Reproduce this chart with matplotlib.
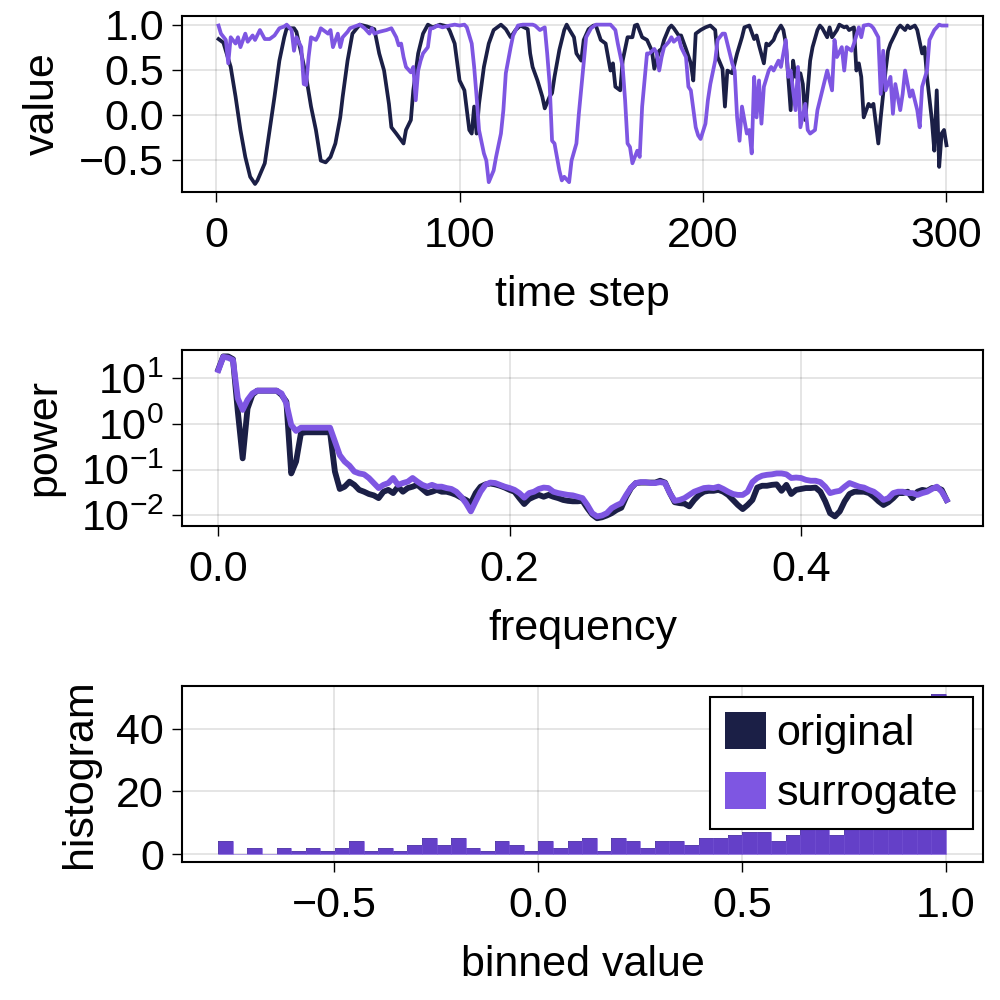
import numpy as np
import matplotlib
matplotlib.use("Agg")
import matplotlib.pyplot as plt
from matplotlib.patches import Patch

plt.rcParams['font.family'] = ['Liberation Sans', 'DejaVu Sans']
plt.rcParams['mathtext.fontset'] = 'custom'
plt.rcParams['mathtext.rm'] = 'Liberation Sans'
plt.rcParams['mathtext.it'] = 'Liberation Sans:italic'

DARK = '#1b1f46'
PURPLE = '#7e56e2'

# time series (time step, value)
orig_t = [1, 3, 6, 8, 10, 12, 14, 16, 17, 20, 22, 24, 26, 28, 29, 32, 33, 35, 37, 39,
          41, 43, 45, 47, 49, 51, 52, 54, 56, 59, 62, 65, 67, 69, 71, 72, 74, 77, 78, 80,
          81, 83, 85, 87, 89, 92, 95, 96, 98, 100, 102, 103, 104, 105, 106, 107, 108, 110, 112, 114,
          117, 119, 121, 123, 125, 128, 129, 130, 132, 134, 135, 137, 138, 139, 141, 143, 144, 145, 147, 148,
          150, 151, 153, 155, 156, 158, 160, 162, 163, 164, 166, 167, 169, 171, 172, 173, 175, 177, 179, 180,
          182, 183, 184, 186, 187, 188, 190, 191, 193, 195, 196, 197, 199, 201, 203, 205, 206, 208, 209, 210,
          212, 213, 214, 216, 217, 219, 221, 222, 223, 225, 226, 227, 229, 230, 232, 233, 234, 236, 237, 238,
          240, 241, 242, 244, 245, 247, 248, 249, 251, 252, 253, 255, 256, 258, 259, 260, 262, 263, 264, 265,
          266, 268, 269, 270, 272, 273, 275, 276, 277, 279, 280, 281, 283, 284, 285, 287, 288, 290, 291, 292,
          294, 295, 296, 297, 298, 299, 300]
orig_v = [0.84, 0.80, 0.53, 0.20, -0.17, -0.47, -0.69, -0.77, -0.73, -0.54, -0.17, 0.20, 0.60, 0.86, 0.96, 0.96, 0.92, 0.68, 0.42, 0.09,
          -0.17, -0.51, -0.53, -0.47, -0.32, -0.03, 0.20, 0.60, 0.90, 1.00, 0.98, 0.95, 0.68, 0.49, 0.12, -0.14, -0.21, -0.32, -0.17, -0.06,
          0.27, 0.68, 0.90, 1.00, 0.97, 1.00, 0.98, 0.93, 0.79, 0.38, 0.27, 0.05, -0.17, -0.21, 0.09, -0.21, 0.12, 0.53, 0.79, 0.94,
          1.00, 0.95, 0.86, 0.94, 0.99, 0.95, 0.68, 0.53, 0.38, 0.20, 0.07, 0.20, 0.24, 0.42, 0.72, 0.94, 1.00, 0.95, 0.86, 0.68,
          0.60, 0.83, 0.95, 0.99, 0.99, 0.83, 0.79, 0.49, 0.57, 0.31, 0.27, 0.60, 0.86, 0.86, 0.99, 1.00, 0.86, 0.83, 0.71, 0.51,
          0.71, 0.73, 0.83, 0.96, 0.99, 0.96, 0.88, 0.88, 0.73, 0.57, 0.38, 0.90, 0.94, 0.97, 0.99, 0.94, 0.64, 0.51, 0.09, 0.49,
          0.46, 0.57, 0.68, 0.86, 0.97, 0.99, 0.84, 0.88, 0.77, 0.57, 0.79, 0.77, 0.83, 0.90, 0.99, 0.94, 0.79, 0.05, 0.60, 0.42,
          0.46, 0.34, -0.06, 0.60, 0.75, 0.94, 0.99, 0.96, 0.86, 0.97, 0.86, 0.94, 1.00, 0.97, 0.98, 0.94, 0.97, 0.49, 0.57, 0.42,
          -0.03, 0.12, 0.09, 0.12, -0.32, -0.03, 0.49, 0.71, 0.79, 0.90, 0.96, 0.99, 0.94, 0.99, 0.96, 0.99, 0.94, 0.68, 0.75, 0.42,
          -0.06, -0.40, 0.27, -0.58, -0.21, -0.17, -0.34]

surr_t = [1, 2, 4, 5, 6, 8, 9, 10, 12, 13, 15, 16, 18, 20, 22, 24, 26, 28, 29, 31,
          32, 33, 35, 36, 37, 38, 39, 41, 42, 43, 46, 47, 48, 50, 51, 52, 54, 55, 57, 59,
          61, 63, 64, 65, 67, 70, 72, 74, 75, 76, 77, 78, 80, 81, 82, 83, 84, 85, 87, 88,
          89, 91, 93, 96, 98, 100, 102, 103, 105, 106, 107, 108, 110, 111, 112, 114, 115, 117, 118, 119,
          121, 122, 124, 126, 128, 130, 131, 133, 135, 136, 137, 138, 139, 141, 142, 143, 145, 146, 148, 149,
          151, 152, 154, 156, 158, 160, 162, 164, 165, 167, 168, 169, 170, 171, 172, 173, 174, 175, 177, 178,
          180, 181, 182, 183, 184, 186, 187, 188, 190, 191, 193, 194, 195, 197, 198, 199, 201, 202, 203, 205,
          206, 208, 209, 210, 212, 213, 214, 215, 216, 218, 219, 220, 221, 222, 223, 224, 225, 227, 228, 229,
          231, 232, 234, 235, 236, 238, 239, 240, 242, 243, 244, 246, 247, 249, 250, 251, 253, 254, 255, 257,
          258, 259, 261, 262, 264, 265, 266, 268, 269, 270, 272, 273, 274, 275, 277, 278, 279, 281, 282, 283,
          285, 286, 288, 289, 290, 292, 293, 295, 297, 298, 300]
surr_v = [0.99, 0.90, 0.83, 0.57, 0.86, 0.79, 0.86, 0.75, 0.90, 0.81, 0.88, 0.83, 0.94, 0.84, 0.84, 0.88, 0.96, 0.98, 1.00, 0.94,
          0.71, 0.86, 0.75, 0.34, 0.33, 0.64, 0.86, 0.83, 0.88, 0.96, 0.90, 0.94, 0.75, 0.90, 0.75, 0.86, 0.92, 0.96, 0.98, 1.00,
          0.96, 0.90, 0.96, 0.90, 0.92, 0.94, 0.96, 0.86, 0.77, 0.79, 0.64, 0.53, 0.47, 0.53, 0.16, 0.49, 0.60, 0.68, 0.75, 0.96,
          0.96, 0.99, 0.97, 0.99, 1.00, 0.99, 1.00, 0.97, 0.79, 0.53, 0.20, -0.17, -0.43, -0.51, -0.75, -0.62, -0.47, -0.21, 0.05, 0.46,
          0.75, 0.88, 0.99, 1.00, 1.00, 1.00, 0.99, 0.94, 0.97, 0.68, 0.34, -0.29, -0.32, -0.62, -0.73, -0.69, -0.75, -0.51, -0.32, 0.01,
          0.57, 0.86, 0.96, 1.00, 1.00, 1.00, 1.00, 0.94, 0.79, 0.53, 0.16, -0.32, -0.36, -0.54, -0.47, -0.40, -0.47, 0.09, 0.68, 0.68,
          0.73, 0.68, 0.49, 0.64, 0.75, 0.81, 0.86, 0.81, 0.86, 0.75, 0.64, 0.31, 0.27, -0.14, -0.23, -0.27, -0.10, 0.16, 0.34, 0.60,
          0.83, 0.90, 0.90, 0.79, 0.57, 0.49, -0.03, -0.29, 0.09, -0.21, -0.17, -0.43, 0.42, -0.03, 0.38, -0.10, 0.31, 0.49, 0.53, 0.49,
          0.60, 0.53, 0.83, 0.42, 0.49, 0.05, 0.53, -0.14, 0.12, -0.17, -0.21, -0.17, 0.05, 0.27, 0.38, 0.49, 0.27, 0.83, 0.64, 0.75,
          0.49, 0.75, 0.71, 0.79, 0.97, 0.86, 0.99, 1.00, 0.99, 0.96, 0.86, 0.23, 0.71, 0.27, 0.42, 0.01, 0.34, 0.05, 0.23, 0.49,
          0.20, 0.27, 0.05, -0.14, 0.31, 0.49, 0.83, 0.94, 1.00, 0.99, 0.99]

# power spectra, log10(power) at frequency k/300, k = 0..150
orig_logpow = [1.20, 1.48, 1.48, 1.42, 0.27, -0.75, 0.34, 0.64, 0.73, 0.73,
               0.73, 0.73, 0.73, 0.64, 0.49, -1.08, -0.82, -0.20, -0.18, -0.18,
               -0.18, -0.18, -0.18, -0.18, -1.04, -1.42, -1.37, -1.26, -1.33, -1.44,
               -1.48, -1.53, -1.56, -1.62, -1.48, -1.44, -1.51, -1.37, -1.48, -1.40,
               -1.37, -1.33, -1.42, -1.51, -1.48, -1.44, -1.48, -1.48, -1.51, -1.55,
               -1.61, -1.66, -1.73, -1.51, -1.37, -1.32, -1.30, -1.32, -1.35, -1.39,
               -1.44, -1.48, -1.62, -1.75, -1.64, -1.59, -1.55, -1.59, -1.55, -1.59,
               -1.62, -1.66, -1.68, -1.69, -1.69, -1.68, -1.84, -1.98, -2.06, -2.04,
               -2.00, -1.95, -1.88, -1.83, -1.59, -1.40, -1.29, -1.28, -1.28, -1.28,
               -1.28, -1.24, -1.28, -1.51, -1.71, -1.73, -1.74, -1.80, -1.66, -1.55,
               -1.48, -1.46, -1.46, -1.44, -1.48, -1.55, -1.66, -1.77, -1.86, -1.77,
               -1.66, -1.39, -1.35, -1.35, -1.33, -1.32, -1.46, -1.33, -1.53, -1.44,
               -1.42, -1.40, -1.40, -1.39, -1.48, -1.69, -1.95, -2.02, -1.91, -1.69,
               -1.53, -1.48, -1.48, -1.48, -1.51, -1.59, -1.69, -1.77, -1.71, -1.62,
               -1.51, -1.51, -1.48, -1.62, -1.48, -1.44, -1.46, -1.40, -1.39, -1.44,
               -1.66]
surr_logpow = [1.18, 1.47, 1.45, 1.40, 0.56, 0.31, 0.53, 0.67, 0.73, 0.73,
               0.73, 0.73, 0.73, 0.67, 0.45, -0.02, -0.15, -0.08, -0.08, -0.08,
               -0.08, -0.08, -0.08, -0.08, -0.38, -0.68, -0.82, -0.91, -1.04, -1.08,
               -1.10, -1.18, -1.29, -1.40, -1.33, -1.29, -1.18, -1.33, -1.29, -1.26,
               -1.18, -1.26, -1.33, -1.37, -1.33, -1.37, -1.37, -1.40, -1.42, -1.48,
               -1.59, -1.73, -1.91, -1.69, -1.48, -1.33, -1.28, -1.29, -1.33, -1.37,
               -1.40, -1.44, -1.51, -1.61, -1.51, -1.48, -1.42, -1.39, -1.40, -1.48,
               -1.51, -1.53, -1.55, -1.56, -1.59, -1.62, -1.77, -1.95, -2.02, -2.00,
               -1.95, -1.84, -1.78, -1.73, -1.55, -1.39, -1.29, -1.27, -1.27, -1.29,
               -1.29, -1.27, -1.29, -1.51, -1.68, -1.66, -1.62, -1.55, -1.48, -1.44,
               -1.40, -1.39, -1.40, -1.37, -1.42, -1.48, -1.53, -1.55, -1.55, -1.48,
               -1.27, -1.18, -1.13, -1.11, -1.10, -1.08, -1.08, -1.10, -1.18, -1.17,
               -1.18, -1.22, -1.24, -1.24, -1.27, -1.37, -1.51, -1.48, -1.46, -1.37,
               -1.29, -1.33, -1.37, -1.39, -1.44, -1.48, -1.56, -1.66, -1.62, -1.51,
               -1.48, -1.48, -1.51, -1.51, -1.55, -1.51, -1.48, -1.42, -1.37, -1.48,
               -1.66]

# histogram counts, 50 bins from -0.784 to 1.0 (same for original and surrogate)
bin_counts = [4, 0, 2, 0, 2, 1, 2, 1, 2, 4, 1, 2, 1, 3, 5, 3, 5, 2, 1, 4,
              3, 1, 4, 2, 4, 5, 1, 5, 4, 2, 4, 4, 3, 5, 5, 6, 7, 7, 4, 6,
              9, 10, 6, 11, 12, 14, 15, 20, 25, 51]
bin_lo, bin_hi = -0.784, 1.0

FS = 31

fig = plt.figure(figsize=(10, 10), dpi=100)
ax1 = fig.add_axes([0.182, 0.808, 0.801, 0.176])
ax2 = fig.add_axes([0.182, 0.474, 0.801, 0.176])
ax3 = fig.add_axes([0.182, 0.138, 0.801, 0.176])

for ax in (ax1, ax2, ax3):
    ax.grid(True, color='black', alpha=0.12, linewidth=1.2)
    ax.set_axisbelow(True)
    ax.tick_params(direction='out', length=7, width=1.0, labelsize=FS, pad=6)
    ax.tick_params(axis='x', pad=10)
    for s in ax.spines.values():
        s.set_linewidth(1.5)

# time series
ax1.plot(orig_t, orig_v, color=DARK, linewidth=2.7)
ax1.plot(surr_t, surr_v, color=PURPLE, linewidth=2.7)
ax1.set_xlim(-14.0, 315.0)
ax1.set_ylim(-0.859, 1.096)
ax1.set_xticks([0, 100, 200, 300])
ax1.set_yticks([-0.5, 0.0, 0.5, 1.0])
ax1.set_yticklabels(['\u22120.5', '0.0', '0.5', '1.0'])
ax1.set_xlabel('time step', fontsize=FS, labelpad=14)
ax1.set_ylabel('value', fontsize=FS, labelpad=12)

# spectrum
freq = np.arange(len(orig_logpow)) / 300
ax2.plot(freq, 10 ** np.array(orig_logpow), color=DARK, linewidth=4.2)
ax2.plot(freq, 10 ** np.array(surr_logpow), color=PURPLE, linewidth=4.2)
ax2.set_yscale('log')
ax2.set_xlim(-0.025, 0.525)
ax2.set_ylim(10 ** -2.23, 10 ** 1.62)
ax2.set_xticks([0.0, 0.2, 0.4])
ax2.set_xticklabels(['0.0', '0.2', '0.4'])
ax2.set_yticks([1e-2, 1e-1, 1e0, 1e1])
ax2.set_yticklabels(['$10^{-2}$', '$10^{-1}$', '$10^{0}$', '$10^{1}$'])
ax2.minorticks_off()
ax2.set_xlabel('frequency', fontsize=FS, labelpad=14)
ax2.set_ylabel('power', fontsize=FS, labelpad=12)

# histogram
edges = np.linspace(bin_lo, bin_hi, len(bin_counts) + 1)
ax3.bar(edges[:-1], bin_counts, width=np.diff(edges), align='edge', color=DARK)
ax3.bar(edges[:-1], bin_counts, width=np.diff(edges), align='edge', color='#7247e0', alpha=0.85,
        edgecolor='#7a55dc', linewidth=0.4)
ax3.set_xlim(-0.873, 1.091)
ax3.set_ylim(-2.55, 53.55)
ax3.set_xticks([-0.5, 0.0, 0.5, 1.0])
ax3.set_xticklabels(['\u22120.5', '0.0', '0.5', '1.0'])
ax3.set_yticks([0, 20, 40])
ax3.set_xlabel('binned value', fontsize=FS, labelpad=14)
ax3.set_ylabel('histogram', fontsize=FS, labelpad=12)

handles = [Patch(facecolor=DARK, label='original'), Patch(facecolor=PURPLE, label='surrogate')]
leg = ax3.legend(handles=handles, loc='upper right', bbox_to_anchor=(0.973, 0.303),
                 bbox_transform=fig.transFigure, fontsize=FS, frameon=True, fancybox=False,
                 edgecolor='black', framealpha=1.0, borderpad=0.35, labelspacing=0.4,
                 handlelength=0.95, handleheight=0.95, handletextpad=0.25, borderaxespad=0.0)
leg.get_frame().set_linewidth(1.5)

fig.savefig('out.png', dpi=100)
